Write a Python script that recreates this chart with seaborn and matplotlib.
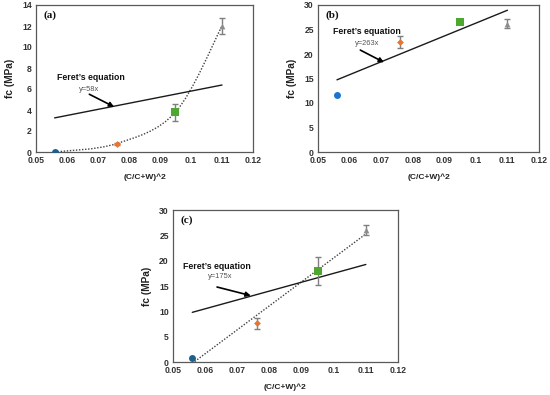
import numpy as np
import pandas as pd
import matplotlib
matplotlib.use("Agg")
import matplotlib.pyplot as plt
from matplotlib.path import Path
from matplotlib.patches import PathPatch
import seaborn as sns

sns.set_theme(style="white")
plt.rcParams['font.family'] = ['Liberation Sans', 'DejaVu Sans']

# Data
x_vals = [0.056, 0.076, 0.095, 0.11]
a_fc = [0.0, 0.8, 3.8, 12.0]
a_err = [0.0, 0.1, 0.8, 0.8]
b_fc = [11.7, 22.5, 26.5, 26.2]
b_err = [0.0, 1.2, 0.0, 0.9]
c_fc = [0.8, 7.6, 18.0, 26.0]
c_err = [0.0, 1.0, 2.8, 1.0]
feret_k = {"a": 58, "b": 263, "c": 175}
y_max = {"a": 14, "b": 30, "c": 30}
y_step = {"a": 2, "b": 5, "c": 5}
x_ticks = [0.05, 0.06, 0.07, 0.08, 0.09, 0.1, 0.11, 0.12]
x_tick_labels = ["0.05", "0.06", "0.07", "0.08", "0.09", "0.1", "0.11", "0.12"]
markers = ["o", "D", "s", "^"]
marker_sizes = [25, 12, 30, 17]
blue_a = "#1F5F8A"
blue_b = "#1C74D0"
orange = "#E9742F"
green = "#4EA72E"
gray = "#8C8C8C"


def smooth_path(xs, ys):
    """Excel-style smoothed line through the points (cubic Bezier segments)."""
    pts = np.column_stack([xs, ys])
    n = len(pts)
    verts = [pts[0]]
    codes = [Path.MOVETO]
    for i in range(n - 1):
        p0 = pts[i - 1] if i > 0 else pts[i]
        p1 = pts[i]
        p2 = pts[i + 1]
        p3 = pts[i + 2] if i + 2 < n else pts[i + 1]
        c1 = p1 + (p2 - p0) / 6.0
        c2 = p2 - (p3 - p1) / 6.0
        verts += [c1, c2, p2]
        codes += [Path.CURVE4] * 3
    return Path(verts, codes)


fig = plt.figure(figsize=(5.5, 3.95), dpi=100)
ax_a = fig.add_axes([36/550, 1-152/395, 217/550, 147/395])
ax_b = fig.add_axes([318/550, 1-152/395, 221/550, 147/395])
ax_c = fig.add_axes([173/550, 1-362/395, 225/550, 152/395])

panels = [
    ("a", ax_a, a_fc, a_err, blue_a, "smooth", (0.0568, 7.1), (0.064, 5.95), (0.0672, 5.5), (0.0752, 4.3)),
    ("b", ax_b, b_fc, b_err, blue_b, None, (0.0548, 24.5), (0.0618, 22.2), (0.0634, 20.8), (0.0709, 18.3)),
    ("c", ax_c, c_fc, c_err, blue_a, "lin", (0.0531, 18.9), (0.0609, 16.8), (0.0637, 14.8), (0.0742, 13.1)),
]

for key, ax, fc, err, blue, trend, t1, t2, a0, a1 in panels:
    colors = [blue, orange, green, gray]
    # trendline
    if trend == "smooth":
        patch = PathPatch(smooth_path(x_vals, fc), fill=False, ls=(0, (1, 1.2)),
                          edgecolor="#404040", lw=1.0, zorder=2)
        ax.add_patch(patch)
    elif trend == "lin":
        xs = np.array([x_vals[0], x_vals[-1]])
        coef = np.polyfit(x_vals, fc, 1)
        ax.plot(xs, np.polyval(coef, xs), ls=(0, (1, 1.2)), color="#404040", lw=1.0, zorder=2)
    # Feret line
    k = feret_k[key]
    fx = np.array([x_vals[0], x_vals[-1]])
    sns.lineplot(x=fx, y=k * fx, ax=ax, color="#1a1a1a", lw=1.0, zorder=3)
    # error bars
    for xi, yi, ei in zip(x_vals, fc, err):
        if ei > 0:
            ax.errorbar(xi, yi, yerr=ei, fmt="none", ecolor="#7f7f7f", elinewidth=1.0,
                        capsize=2, capthick=1.0, zorder=4)
    # markers
    for i in range(4):
        sns.scatterplot(x=[x_vals[i]], y=[fc[i]], ax=ax, marker=markers[i],
                        s=marker_sizes[i], color=colors[i], edgecolor=colors[i],
                        linewidth=0, zorder=5)
    # annotations
    ax.text(t1[0], t1[1], "Feret\u2019s equation", fontsize=6.3, fontweight="bold",
            color="#111111", va="center", ha="left")
    ax.text(t2[0], t2[1], f"y={k}x", fontsize=5.4, color="#555555", va="center", ha="left")
    ax.annotate("", xy=a1, xytext=a0,
                arrowprops=dict(arrowstyle="-|>", color="black", lw=1.2,
                                mutation_scale=7, shrinkA=0, shrinkB=0))
    ax.text(0.035, 0.965, f"({key})", transform=ax.transAxes, fontsize=8,
            fontweight="bold", family=["Liberation Serif", "DejaVu Serif"],
            va="top", ha="left", color="#111111")
    # axes
    ax.set_xlim(0.05, 0.12)
    ax.set_ylim(0, y_max[key])
    ax.set_xticks(x_ticks)
    ax.set_xticklabels(x_tick_labels)
    ax.set_yticks(np.arange(0, y_max[key] + 0.1, y_step[key]))
    ax.tick_params(axis="both", direction="in", length=2, width=0.8, colors="#595959",
                   labelsize=6.2, labelcolor="#333333", pad=3)
    for lab in ax.get_xticklabels() + ax.get_yticklabels():
        lab.set_fontweight("bold")
    for sp in ax.spines.values():
        sp.set_visible(True)
        sp.set_color("#595959")
        sp.set_linewidth(0.9)
    ax.set_xlabel("(C/C+W)^2", fontsize=6, color="#222222", fontweight="bold", labelpad=6)
    ax.set_ylabel("fc (MPa)", fontsize=7.3, color="#222222", fontweight="bold", labelpad=5)
    ax.grid(False)

fig.savefig("out.png", dpi=100)
